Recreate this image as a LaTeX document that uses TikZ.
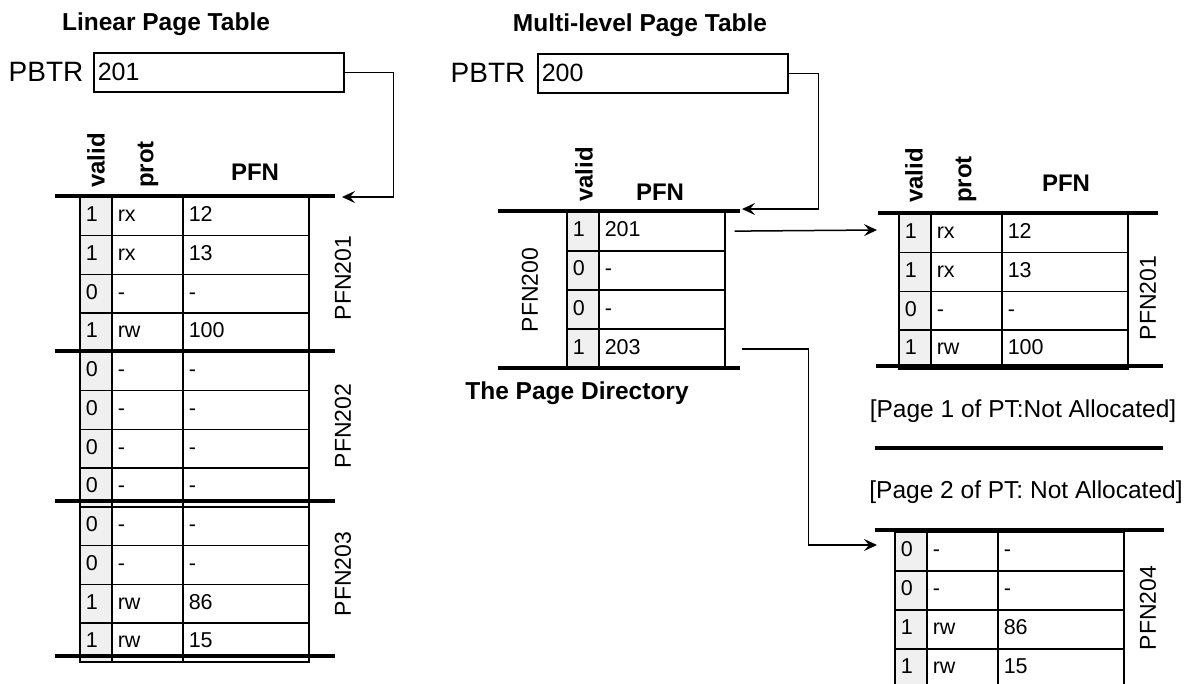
\documentclass[tikz,border=0pt]{standalone}
\usepackage{fontspec}
\setmainfont{Liberation Sans}
\usetikzlibrary{arrows.meta, positioning, calc}
\tikzset{
	cell/.style={draw, line width=1.5pt, anchor=north west, minimum height=38.75pt, inner xsep=6pt, inner ysep=0pt, align=left, text height=15pt, text depth=4pt, font=\fontsize{21.5}{24}\selectfont},
	vcell/.style={cell, fill=gray!12, text width=20pt},
	pcell/.style={cell, text width=59pt},
	fcell/.style={cell, text width=114pt},
	thickrule/.style={line width=3.8pt},
	colhead/.style={font=\fontsize{24}{28}\selectfont\bfseries},
	vhead/.style={colhead, rotate=90, anchor=west, inner sep=0pt},
	heading/.style={font=\fontsize{24.5}{28}\selectfont\bfseries},
	pagetag/.style={font=\fontsize{23}{26}\selectfont, rotate=90},
	regname/.style={font=\fontsize{28}{32}\selectfont},
	reg/.style={draw, line width=1.5pt, anchor=north west, minimum height=39pt, text width=242pt, inner xsep=4pt, align=left, font=\fontsize{25}{28}\selectfont},
	note/.style={font=\fontsize{24.5}{28}\selectfont},
	line/.style={draw, line width=1.5pt, -{Stealth[length=13pt, width=12pt, inset=5pt]}}
}

\begin{document}
\begin{tikzpicture}[x=1pt, y=-1pt]
	\useasboundingbox (0,0) rectangle (1193,683);
	\clip (0,0) rectangle (1193,683);

	% Linear Page Table
	\node[heading] (ltitle) at (166,24) {Linear Page Table};
	\node[regname] (lpbtr) at (46,72) {PBTR};
	\node[reg] (lreg) at (93,52) {201};
	\node[vhead] (lvalid) at (96,188) {valid};
	\node[vhead] (lprot) at (148,188) {prot};
	\node[colhead] (lpfn) at (255,172) {PFN};
	\foreach \v/\p/\f [count=\i] in {1/rx/12, 1/rx/13, 0/-/-, 1/rw/100,
		0/-/-, 0/-/-, 0/-/-, 0/-/-, 0/-/-, 0/-/-, 1/rw/86, 1/rw/15}
	{
		\node[vcell] (lv\i) at (79,{196+(\i-1)*38.75}) {\v};
		\node[pcell] (lp\i) at (111,{196+(\i-1)*38.75}) {\p};
		\node[fcell] (lf\i) at (182,{196+(\i-1)*38.75}) {\f};
	}
	\foreach \y in {196,351,501,656}
		\draw[thickrule] (55,\y) -- (335,\y);
	\node[pagetag] (lpage1) at (343,278) {PFN201};
	\node[pagetag] (lpage2) at (343,426) {PFN202};
	\node[pagetag] (lpage3) at (343,574) {PFN203};
	\coordinate (ltop) at (342,197);
	\draw[line] (lreg.east) -- ++(49,0) |- (ltop);

	% Multi-level Page Table
	\node[heading] (mtitle) at (640,25) {Multi-level Page Table};
	\node[regname] (mpbtr) at (488,73) {PBTR};
	\node[reg] (mreg) at (537,53) {200};

	% The page directory
	\node[vhead] (dvalid) at (584,202) {valid};
	\node[colhead] (dpfn) at (660,192) {PFN};
	\foreach \v/\f [count=\i] in {1/201, 0/-, 0/-, 1/203}
	{
		\node[vcell] (dv\i) at (566,{211+(\i-1)*39.25}) {\v};
		\node[fcell] (df\i) at (598,{211+(\i-1)*39.25}) {\f};
	}
	\draw[thickrule] (498,211) -- (740,211);
	\draw[thickrule] (498,368) -- (740,368);
	\node[pagetag] (dpage) at (530,290) {PFN200};
	\node[heading] (dtitle) at (577,393) {The Page Directory};
	\coordinate (dtop) at (742,209);
	\draw[line] (mreg.east) -- ++(30,0) |- (dtop);

	% Page 0 of the page table
	\node[vhead] (avalid) at (914,203) {valid};
	\node[vhead] (aprot) at (966,203) {prot};
	\node[colhead] (apfn) at (1066,183) {PFN};
	\foreach \v/\p/\f [count=\i] in {1/rx/12, 1/rx/13, 0/-/-, 1/rw/100}
	{
		\node[vcell] (av\i) at (898,{213+(\i-1)*38.75}) {\v};
		\node[pcell] (ap\i) at (930,{213+(\i-1)*38.75}) {\p};
		\node[fcell] (af\i) at (1001,{213+(\i-1)*38.75}) {\f};
	}
	\draw[thickrule] (878,213) -- (1158,213);
	\draw[thickrule] (876,366) -- (1163,366);
	\node[pagetag] (apage) at (1148,298) {PFN201};

	% Pages 1 and 2: not allocated
	\node[note] (bnote) at (1023,411) {[Page 1 of PT:Not Allocated]};
	\draw[thickrule] (875,448) -- (1163,448);
	\node[note] (cnote) at (1026,492) {[Page 2 of PT: Not Allocated]};
	\draw[thickrule] (875,530) -- (1164,530);

	% Page 3 of the page table
	\foreach \v/\p/\f [count=\i] in {0/-/-, 0/-/-, 1/rw/86, 1/rw/15}
	{
		\node[vcell] (ev\i) at (894,{531+(\i-1)*39}) {\v};
		\node[pcell] (ep\i) at (926,{531+(\i-1)*39}) {\p};
		\node[fcell] (ef\i) at (997,{531+(\i-1)*39}) {\f};
	}
	\node[pagetag] (epage) at (1148,608) {PFN204};

	% Connections
	\coordinate (ain) at (877,230);
	\coordinate (ein) at (877,545);
	\draw[line] ([xshift=9pt]df1.east) -- (ain);
	\draw[line] ([xshift=16pt]df4.east) -- ++(67,0) |- (ein);
\end{tikzpicture}
\end{document}
